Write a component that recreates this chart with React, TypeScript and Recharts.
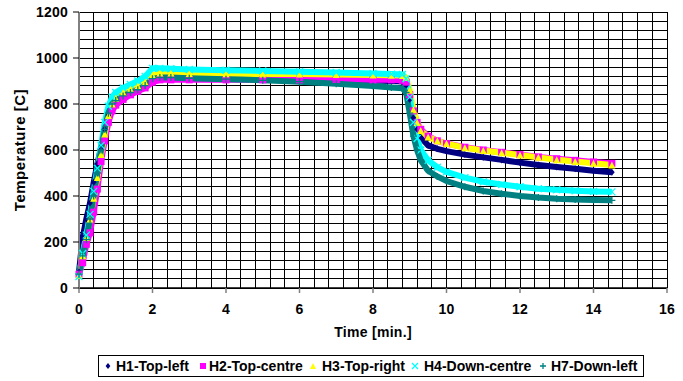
import React from 'react';
import { ComposedChart, Line, XAxis, YAxis, CartesianGrid } from 'recharts';

// Time [min.]
const time = [0, 0.1, 0.2, 0.3, 0.4, 0.5, 0.6, 0.7, 0.8, 0.9, 1.0, 1.2, 1.4, 1.6, 1.8, 2.0, 2.2, 2.5, 3, 4, 5, 6, 7, 8, 8.5, 8.8, 8.9, 9.0, 9.1, 9.2, 9.3, 9.5, 9.75, 10, 10.5, 11, 11.5, 12, 12.5, 13, 13.5, 14, 14.5];

const h1TopLeft = [70, 220, 300, 370, 460, 540, 610, 690, 750, 790, 810, 835, 855, 870, 885, 905, 912, 912, 912, 910, 910, 908, 905, 902, 900, 898, 880, 820, 740, 690, 655, 620, 605, 595, 580, 568, 557, 545, 535, 526, 518, 510, 503];
const h2TopCentre = [60, 110, 190, 240, 330, 430, 550, 640, 720, 770, 795, 820, 840, 855, 870, 895, 905, 905, 905, 905, 905, 905, 905, 905, 905, 903, 895, 840, 770, 720, 690, 660, 640, 628, 612, 600, 590, 580, 570, 562, 555, 548, 542];
const h3TopRight = [55, 140, 220, 300, 390, 480, 580, 670, 750, 800, 825, 850, 865, 878, 895, 925, 935, 935, 933, 932, 930, 930, 928, 926, 925, 924, 915, 860, 775, 720, 685, 657, 640, 628, 610, 598, 588, 578, 568, 558, 550, 542, 535];
const h4DownCentre = [50, 150, 230, 320, 420, 520, 620, 720, 790, 830, 850, 870, 885, 900, 920, 955, 955, 953, 950, 947, 944, 940, 937, 933, 930, 928, 910, 830, 720, 650, 600, 555, 525, 505, 480, 462, 450, 440, 432, 427, 423, 420, 418];
const h7DownLeft = [60, 140, 210, 300, 400, 500, 600, 690, 760, 800, 815, 835, 850, 862, 880, 910, 915, 915, 912, 908, 903, 897, 888, 878, 872, 868, 850, 760, 660, 600, 555, 510, 485, 465, 440, 422, 410, 400, 393, 388, 385, 383, 381];

const xTicks = [0, 2, 4, 6, 8, 10, 12, 14, 16];
const yTicks = [0, 200, 400, 600, 800, 1000, 1200];

const seriesNames = ['H1-Top-left', 'H2-Top-centre', 'H3-Top-right', 'H4-Down-centre', 'H7-Down-left'];
const seriesKeys = ['h1', 'h2', 'h3', 'h4', 'h7'];
const seriesColors = ['#000080', '#FF00FF', '#FFFF00', '#00FFFF', '#008080'];
const seriesShapes = ['diamond', 'square', 'triangle', 'x', 'plus'];

const data = time.map((t, i) => ({
  t,
  h1: h1TopLeft[i],
  h2: h2TopCentre[i],
  h3: h3TopRight[i],
  h4: h4DownCentre[i],
  h7: h7DownLeft[i],
}));

const vGrid = Array.from({ length: 41 }, (_, i) => Math.round(i * 0.4 * 100) / 100);
const hGrid = Array.from({ length: 31 }, (_, i) => i * 40);

const FONT = '"Liberation Sans", Arial, Helvetica, sans-serif';
const textStyle = { fontFamily: FONT, fontWeight: 700, fontSize: 14, letterSpacing: 0.2, fill: '#000' };

function Marker({ shape, color, cx, cy, s = 3.5 }: any) {
  switch (shape) {
    case 'diamond':
      return <path d={`M${cx},${cy - s}L${cx + s * 0.8},${cy}L${cx},${cy + s}L${cx - s * 0.8},${cy}Z`} fill={color} />;
    case 'square':
      return <rect x={cx - s} y={cy - s} width={s * 2} height={s * 2} fill={color} />;
    case 'triangle':
      return <path d={`M${cx},${cy - s}L${cx + s},${cy + s}L${cx - s},${cy + s}Z`} fill={color} />;
    case 'x':
      return <path d={`M${cx - s},${cy - s}L${cx + s},${cy + s}M${cx + s},${cy - s}L${cx - s},${cy + s}`} stroke={color} strokeWidth={1.3} fill="none" />;
    default:
      return <path d={`M${cx - s},${cy}L${cx + s},${cy}M${cx},${cy - s}L${cx},${cy + s}`} stroke={color} strokeWidth={1.3} fill="none" />;
  }
}

const makeDot = (shape: string, color: string, name: string) => (props: any) => {
  const { cx, cy, index } = props;
  if (cx == null || cy == null) return <g key={`${name}-${index}`} />;
  return (
    <g key={`${name}-${index}`}>
      <Marker shape={shape} color={color} cx={cx} cy={cy} s={3.5} />
    </g>
  );
};

function LegendBox() {
  const markerX = [108, 203, 313, 415, 543];
  const textX = [116, 209, 322, 424, 551];
  return (
    <div
      style={{
        position: 'absolute',
        left: 98,
        top: 355,
        width: 546,
        height: 22,
        border: '1px solid #000',
        boxSizing: 'border-box',
        background: '#fff',
      }}
    >
      {seriesNames.map((n, i) => (
        <React.Fragment key={n}>
          <svg
            width={10}
            height={10}
            style={{ position: 'absolute', left: markerX[i] - 99 - 5, top: 5 }}
          >
            <Marker shape={seriesShapes[i]} color={seriesColors[i]} cx={5} cy={5} s={3} />
          </svg>
          <span
            style={{
              position: 'absolute',
              left: textX[i] - 99,
              top: 1,
              lineHeight: '18px',
              whiteSpace: 'nowrap',
              fontFamily: FONT,
              fontWeight: 700,
              fontSize: 14,
              color: '#000',
            }}
          >
            {n}
          </span>
        </React.Fragment>
      ))}
    </div>
  );
}

export default function App() {
  return (
    <div style={{ position: 'absolute', left: 0, top: 0, width: 683, height: 381, background: '#fff' }}>
      <ComposedChart width={683} height={381} data={data} margin={{ top: 12, right: 16, left: 0, bottom: 43 }}>
        <CartesianGrid
          stroke="#000"
          strokeWidth={1}
          horizontalValues={hGrid}
          verticalValues={vGrid}
          shapeRendering="crispEdges"
        />
        <XAxis
          type="number"
          dataKey="t"
          domain={[0, 16]}
          ticks={xTicks}
          interval={0}
          height={50}
          tickSize={5}
          tickMargin={11}
          axisLine={{ stroke: '#000', strokeWidth: 1.5 }}
          tickLine={{ stroke: '#808080', strokeWidth: 1.5 }}
          tick={textStyle}
          label={{ value: 'Time [min.]', position: 'insideBottom', offset: 1, style: { ...textStyle, letterSpacing: 0.3 } }}
        />
        <YAxis
          type="number"
          domain={[0, 1200]}
          ticks={yTicks}
          interval={0}
          width={79}
          tickSize={6}
          tickMargin={5}
          axisLine={{ stroke: '#808080', strokeWidth: 2 }}
          tickLine={{ stroke: '#000', strokeWidth: 1 }}
          tick={textStyle}
          label={{
            value: 'Temperature [C]',
            angle: -90,
            position: 'insideLeft',
            offset: 20,
            style: { ...textStyle, fontSize: 15, letterSpacing: 0.5, textAnchor: 'middle' },
          }}
        />
        {seriesKeys.map((k, i) => (
          <Line
            key={k}
            type="linear"
            dataKey={k}
            name={seriesNames[i]}
            stroke={seriesColors[i]}
            strokeWidth={6}
            dot={makeDot(seriesShapes[i], seriesColors[i], k)}
            activeDot={false}
            isAnimationActive={false}
          />
        ))}
      </ComposedChart>
      <LegendBox />
    </div>
  );
}
